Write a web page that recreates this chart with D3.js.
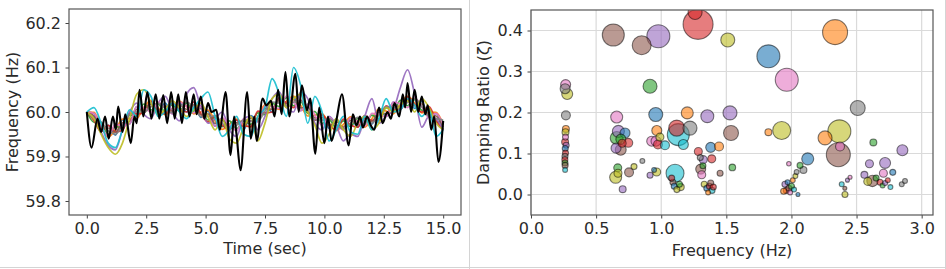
<!DOCTYPE html>
<html>
<head>
<meta charset="utf-8">
<script src="https://cdn.jsdelivr.net/npm/d3@7"></script>
<style>
  body { margin: 0; background: #fff; }
  svg { display: block; font-family: "DejaVu Sans", sans-serif; }
</style>
</head>
<body>
<svg id="chart" width="946" height="269"></svg>
<script>
// ---- left panel: frequency traces ----
const traceTimes = [0,0.3,0.6,0.9,1.2,1.5,1.8,2.1,2.4,2.7,3.0,3.3,3.6,3.9,4.2,4.5,4.8,5.1,5.4,5.7,
  6.0,6.3,6.6,6.9,7.2,7.5,7.8,8.1,8.4,8.7,9.0,9.3,9.6,9.9,10.2,10.5,10.8,11.1,11.4,11.7,
  12.0,12.3,12.6,12.9,13.2,13.5,13.8,14.1,14.4,14.7,15.0];

const traceBlue = [60.000,59.997,59.956,59.970,59.948,59.982,59.973,60.012,59.998,60.024,59.998,60.020,59.996,60.022,60.000,60.022,59.988,60.002,59.968,59.987,
  59.960,59.982,59.960,59.992,59.978,60.014,60.000,60.032,60.012,60.034,60.003,60.017,59.981,59.994,59.963,59.984,59.960,59.987,59.966,59.992,
  59.973,60.005,59.990,60.022,60.006,60.034,60.008,60.024,59.988,59.997,59.960];
const traceOrange = [60.000,59.999,59.968,59.944,59.960,59.984,59.985,59.986,60.010,60.026,60.010,59.994,60.008,60.024,60.012,59.996,60.000,60.004,59.980,59.961,
  59.972,59.984,59.972,59.966,59.990,60.016,60.012,60.006,60.024,60.036,60.015,59.991,59.993,59.996,59.975,59.958,59.972,59.989,59.978,59.966,
  59.985,60.007,60.002,59.996,60.018,60.036,60.020,59.998,60.000,59.999,59.972];
const traceGreen = [60.000,59.977,59.976,59.950,59.968,59.962,59.993,59.992,60.018,60.004,60.018,60.000,60.016,60.002,60.020,60.002,60.008,59.982,59.988,59.967,
  59.980,59.962,59.980,59.972,59.998,59.994,60.020,60.012,60.032,60.014,60.023,59.997,60.001,59.974,59.983,59.964,59.980,59.967,59.986,59.972,
  59.993,59.985,60.010,60.002,60.026,60.014,60.028,60.004,60.008,59.977,59.980];
const traceRed = [60.000,59.981,59.956,59.970,59.956,59.958,59.997,59.996,59.998,60.024,60.006,59.996,60.020,60.006,60.000,60.022,59.996,59.978,59.992,59.971,
  59.960,59.982,59.968,59.968,60.002,59.998,60.000,60.032,60.020,60.010,60.027,60.001,59.981,59.994,59.971,59.960,59.984,59.971,59.966,59.992,
  59.981,59.981,60.014,60.006,60.006,60.034,60.016,60.000,60.012,59.981,59.960];
const tracePurple = [60.000,59.990,59.955,59.925,59.915,59.960,60.000,60.020,59.995,59.985,60.020,60.035,60.000,59.980,60.040,60.055,60.010,59.975,59.985,60.000,
  59.960,59.945,59.985,59.990,59.960,59.990,60.030,60.045,60.010,60.000,60.045,60.030,59.975,59.960,59.990,59.970,59.935,59.950,59.945,59.990,
  60.030,59.975,59.990,60.005,60.055,60.095,60.040,59.966,59.990,59.985,59.960];
const traceBrown = [60.000,59.991,59.962,59.964,59.954,59.976,59.979,60.006,60.004,60.018,60.004,60.014,60.002,60.016,60.006,60.016,59.994,59.996,59.974,59.981,
  59.966,59.976,59.966,59.986,59.984,60.008,60.006,60.026,60.018,60.028,60.009,60.011,59.987,59.988,59.969,59.978,59.966,59.981,59.972,59.986,
  59.979,59.999,59.996,60.016,60.012,60.028,60.014,60.018,59.994,59.991,59.966];
const tracePink = [60.000,59.997,59.968,59.946,59.972,59.970,59.973,60.012,60.010,60.000,60.022,60.008,59.996,60.022,60.012,59.998,60.012,59.990,59.968,59.987,
  59.972,59.958,59.984,59.980,59.978,60.014,60.012,60.008,60.036,60.022,60.003,60.017,59.993,59.970,59.987,59.972,59.960,59.987,59.978,59.968,
  59.997,59.993,59.990,60.022,60.018,60.010,60.032,60.012,59.988,59.997,59.972];
const traceGray = [60.000,59.985,59.978,59.958,59.950,59.970,59.995,60.000,60.000,60.012,60.020,60.008,59.998,60.010,60.022,60.010,59.990,59.990,59.990,59.975,
  59.962,59.970,59.982,59.980,59.980,60.002,60.022,60.020,60.014,60.022,60.025,60.005,59.983,59.982,59.985,59.972,59.962,59.975,59.988,59.980,
  59.975,59.993,60.012,60.010,60.008,60.022,60.030,60.012,59.990,59.985,59.982];
const traceOlive = [60.000,59.985,59.950,59.920,59.905,59.930,59.985,60.040,60.050,60.020,59.995,60.005,60.025,60.010,59.990,60.005,60.020,59.990,59.960,59.985,
  59.940,59.930,59.965,59.990,59.935,59.975,60.030,60.040,60.010,60.030,60.040,60.000,59.970,59.930,59.950,59.985,59.960,59.945,59.975,59.990,
  59.960,59.975,60.010,60.000,60.015,60.025,60.000,60.030,60.010,59.975,59.960];
const traceCyan = [60.000,60.010,59.975,59.930,59.920,59.960,60.005,59.990,60.050,60.035,59.990,60.000,60.020,60.000,59.985,60.010,60.030,60.045,59.990,59.945,
  59.960,59.990,59.950,59.945,59.990,60.010,60.075,60.040,59.990,60.100,60.060,59.975,60.035,60.000,59.935,59.960,59.990,59.955,59.950,59.990,
  59.960,59.985,60.030,60.000,60.005,60.030,60.015,59.990,60.005,59.945,59.960];

// measured trace (black), turning points
const measuredTimes = [0.00,0.20,0.45,0.60,0.77,0.92,1.10,1.22,1.32,1.50,1.62,1.85,2.00,2.10,2.22,2.38,2.55,2.72,2.90,3.05,
  3.22,3.38,3.55,3.70,3.85,4.00,4.17,4.32,4.50,4.62,4.80,4.95,5.10,5.25,5.45,5.60,5.84,6.05,6.20,6.30,
  6.47,6.75,6.90,7.05,7.15,7.40,7.55,7.75,7.90,8.05,8.20,8.36,8.52,8.78,8.92,9.05,9.27,9.40,9.62,9.78,
  10.00,10.15,10.30,10.50,10.74,11.02,11.20,11.35,11.50,11.62,11.80,11.95,12.10,12.30,12.45,12.65,12.80,12.95,13.15,13.30,
  13.40,13.50,13.65,13.80,13.95,14.10,14.25,14.35,14.50,14.62,14.80,15.00];
const measuredFreq = [60.000,59.920,59.985,59.955,59.990,59.940,59.990,59.960,60.012,59.955,59.995,59.930,59.990,59.975,60.050,59.990,60.045,59.985,60.040,59.985,
  60.038,59.975,60.045,59.985,60.040,59.975,60.045,59.990,60.040,59.995,60.035,59.985,60.020,60.000,60.005,59.960,60.045,59.903,59.990,59.950,
  59.869,60.045,59.940,59.990,59.935,60.030,60.015,60.025,59.990,60.050,59.995,60.090,59.990,60.086,60.000,60.060,60.004,60.030,59.906,60.010,
  59.930,59.990,59.935,59.980,60.040,59.925,59.995,59.970,59.990,59.965,59.990,59.970,59.960,60.010,59.975,60.000,59.985,60.020,59.990,60.040,
  60.010,60.065,60.000,60.050,60.000,60.035,59.995,60.015,59.960,59.990,59.888,59.980];

const timeTicks = [0, 2.5, 5, 7.5, 10, 12.5, 15];
const freqTicks = [59.8, 59.9, 60.0, 60.1, 60.2];

// ---- right panel: identified modes ----
const modeFreq = [
  0.632,0.850,0.978,1.283,1.260,1.511,1.823,1.964,2.335,2.509,2.368,2.360,2.258,2.373,1.925,1.823,
  1.528,1.354,1.536,1.380,1.444,1.388,1.452,1.546,2.125,2.066,2.092,1.980,
  2.629,2.852,2.599,2.719,2.706,2.560,2.622,2.586,2.778,2.847,2.872,2.386,2.411,2.68,2.70,2.72,2.74,2.76,2.65,2.43,2.45,2.41,
  1.95,1.96,1.97,1.98,1.99,2.00,2.01,2.02,2.03,2.04,1.94,2.05,
  0.266,0.262,0.278,0.268,0.268,0.265,0.262,0.270,0.263,0.265,0.261,0.260,0.261,0.262,0.262,0.265,
  0.658,0.671,0.722,0.658,0.690,0.747,0.689,0.653,0.700,0.666,0.650,0.668,0.753,0.791,0.704,0.855,0.914,0.965,0.945,
  0.914,0.958,1.200,0.966,0.927,0.960,0.975,0.990,1.131,1.119,1.221,1.170,1.029,1.106,1.09,1.10,1.12,1.14,1.15,1.08,
  1.285,1.323,1.303,1.311,1.300,1.320,1.33,1.35,1.37,1.39,1.38,1.36,1.40];
const modeDamp = [
  0.389,0.364,0.386,0.415,0.444,0.377,0.337,0.280,0.396,0.211,0.154,0.097,0.138,0.117,0.156,0.152,
  0.199,0.191,0.150,0.115,0.117,0.087,0.052,0.066,0.087,0.071,0.060,0.075,
  0.127,0.108,0.075,0.077,0.052,0.048,0.033,0.032,0.054,0.025,0.033,0.025,0.000,0.030,0.022,0.028,0.035,0.018,0.040,0.035,0.042,0.015,
  0.025,0.010,0.030,0.015,0.005,0.020,0.035,0.012,0.045,0.055,0.008,0.000,
  0.268,0.258,0.245,0.193,0.160,0.152,0.128,0.120,0.112,0.101,0.093,0.085,0.077,0.071,0.060,0.140,
  0.189,0.154,0.150,0.138,0.135,0.126,0.109,0.113,0.125,0.065,0.042,0.052,0.054,0.068,0.013,0.082,0.047,0.055,0.060,
  0.264,0.195,0.199,0.156,0.130,0.130,0.122,0.140,0.146,0.162,0.162,0.122,0.120,0.052,0.030,0.020,0.012,0.025,0.018,0.040,
  0.105,0.085,0.062,0.048,0.090,0.070,0.025,0.015,0.020,0.010,0.028,0.005,0.018];
const modeSize = [
  121,90,132,225,49,49,132,132,156,56,132,144,49,20,81,12,
  49,42,56,25,20,16,9,11,36,9,12,5,
  12,30,16,30,16,12,32,16,9,6,6,6,9,9,6,6,6,6,9,4,4,4,
  9,9,6,9,6,9,6,6,6,6,9,4,
  25,25,30,20,12,12,12,9,9,9,9,9,9,9,6,9,
  36,36,25,42,25,20,30,25,16,16,36,16,20,9,12,6,9,16,6,
  49,49,36,25,25,25,20,16,121,64,49,25,20,81,9,9,9,9,12,9,
  16,16,25,16,9,9,9,9,9,9,9,6,9];
const modeGroup = [
  5,5,4,3,3,8,0,6,1,7,8,5,1,6,8,1,
  4,4,5,0,1,3,5,2,0,2,7,6,
  2,4,4,4,6,4,5,8,0,7,7,9,8,3,2,4,3,9,2,4,6,5,
  4,3,0,5,6,2,1,9,8,7,1,0,
  6,7,8,7,1,8,3,4,0,3,7,3,2,5,9,6,
  6,4,0,2,2,3,5,4,3,2,8,8,5,8,4,7,4,8,0,
  2,0,1,1,6,6,3,8,9,3,7,9,9,9,5,0,8,2,8,3,
  3,4,5,6,7,2,8,0,3,9,5,1,3];

const modeFreqTicks = [0, 0.5, 1, 1.5, 2, 2.5, 3];
const dampTicks = [0, 0.1, 0.2, 0.3, 0.4];

const tab10 = d3.schemeCategory10;
const svg = d3.select("#chart");

// panel frames
svg.append("line").attr("x1", 469.5).attr("x2", 469.5).attr("y1", 0).attr("y2", 269)
  .attr("stroke", "#d4d4d4");
svg.append("line").attr("x1", 945.5).attr("x2", 945.5).attr("y1", 0).attr("y2", 269)
  .attr("stroke", "#d4d4d4");
svg.append("line").attr("x1", 0).attr("x2", 946).attr("y1", 267.5).attr("y2", 267.5)
  .attr("stroke", "#d4d4d4");

function styleAxis(g) {
  g.select(".domain").remove();
  g.selectAll(".tick line").attr("stroke", "#444");
  g.selectAll(".tick text").attr("fill", "#2a2a2a").attr("font-size", 16)
    .attr("font-family", "DejaVu Sans, sans-serif");
}

// ---------- left ----------
const L = {x0: 69, x1: 461, y0: 9, y1: 215};
const xL = d3.scaleLinear().domain([-0.75, 15.75]).range([L.x0, L.x1]);
const yL = d3.scaleLinear().domain([59.7685, 60.2315]).range([L.y1, L.y0]);

svg.append("clipPath").attr("id", "clipL").append("rect")
  .attr("x", L.x0).attr("y", L.y0).attr("width", L.x1 - L.x0).attr("height", L.y1 - L.y0);

const lineTrace = d3.line()
  .x((d, i) => xL(traceTimes[i]))
  .y(d => yL(d))
  .curve(d3.curveMonotoneX);

const traces = [traceBlue, traceOrange, traceGreen, traceRed, tracePurple,
                traceBrown, tracePink, traceGray, traceOlive, traceCyan];

const gL = svg.append("g").attr("clip-path", "url(#clipL)");
gL.selectAll("path.trace")
  .data(traces)
  .join("path")
  .attr("class", "trace")
  .attr("d", lineTrace)
  .attr("fill", "none")
  .attr("stroke", (d, i) => tab10[i])
  .attr("stroke-width", 1.7)
  .attr("stroke-opacity", 0.9);

const lineMeasured = d3.line()
  .x((d, i) => xL(measuredTimes[i]))
  .y(d => yL(d))
  .curve(d3.curveMonotoneX);

gL.append("path")
  .datum(measuredFreq)
  .attr("d", lineMeasured)
  .attr("fill", "none")
  .attr("stroke", "#000")
  .attr("stroke-width", 2.1);

svg.append("g")
  .attr("transform", `translate(0,${L.y1})`)
  .call(d3.axisBottom(xL).tickValues(timeTicks).tickFormat(d3.format(".1f"))
    .tickSize(3.5).tickPadding(4))
  .call(styleAxis);

svg.append("g")
  .attr("transform", `translate(${L.x0},0)`)
  .call(d3.axisLeft(yL).tickValues(freqTicks).tickFormat(d3.format(".1f"))
    .tickSize(3.5).tickPadding(4.5))
  .call(styleAxis);

svg.append("rect")
  .attr("x", L.x0).attr("y", L.y0).attr("width", L.x1 - L.x0).attr("height", L.y1 - L.y0)
  .attr("fill", "none").attr("stroke", "#555").attr("stroke-width", 1.2);

svg.append("text")
  .attr("x", (L.x0 + L.x1) / 2).attr("y", 254)
  .attr("text-anchor", "middle").attr("font-size", 16).attr("fill", "#2a2a2a")
  .text("Time (sec)");

svg.append("text")
  .attr("transform", `translate(18,${(L.y0 + L.y1) / 2}) rotate(-90)`)
  .attr("text-anchor", "middle").attr("font-size", 16).attr("fill", "#2a2a2a")
  .text("Frequency (Hz)");

// ---------- right ----------
const R = {x0: 531, x1: 933, y0: 10, y1: 215};
const xR = d3.scaleLinear().domain([0, 3.087]).range([R.x0, R.x1]);
const yR = d3.scaleLinear().domain([-0.05, 0.45]).range([R.y1, R.y0]);
const rR = d3.scaleSqrt().domain([0, 225]).range([0, 15]);

svg.append("clipPath").attr("id", "clipR").append("rect")
  .attr("x", R.x0).attr("y", R.y0).attr("width", R.x1 - R.x0).attr("height", R.y1 - R.y0);

const grid = svg.append("g").attr("stroke", "#dadada").attr("stroke-width", 1.2);
grid.selectAll("line.gx").data(modeFreqTicks).join("line")
  .attr("x1", d => xR(d)).attr("x2", d => xR(d)).attr("y1", R.y0).attr("y2", R.y1);
grid.selectAll("line.gy").data(dampTicks).join("line")
  .attr("x1", R.x0).attr("x2", R.x1).attr("y1", d => yR(d)).attr("y2", d => yR(d));

const modes = modeFreq.map((f, i) => ({f, z: modeDamp[i], s: modeSize[i], g: modeGroup[i]}))
  .sort((a, b) => b.s - a.s);

svg.append("g").attr("clip-path", "url(#clipR)")
  .selectAll("circle")
  .data(modes)
  .join("circle")
  .attr("cx", d => xR(d.f))
  .attr("cy", d => yR(d.z))
  .attr("r", d => rR(d.s))
  .attr("fill", d => tab10[d.g])
  .attr("fill-opacity", 0.6)
  .attr("stroke", "#000")
  .attr("stroke-opacity", 0.5)
  .attr("stroke-width", 1.1);

svg.append("g")
  .attr("transform", `translate(0,${R.y1})`)
  .call(d3.axisBottom(xR).tickValues(modeFreqTicks).tickFormat(d3.format(".1f"))
    .tickSize(3.5).tickPadding(4))
  .call(styleAxis);

svg.append("g")
  .attr("transform", `translate(${R.x0},0)`)
  .call(d3.axisLeft(yR).tickValues(dampTicks).tickFormat(d3.format(".1f"))
    .tickSize(3.5).tickPadding(4.5))
  .call(styleAxis);

svg.append("rect")
  .attr("x", R.x0).attr("y", R.y0).attr("width", R.x1 - R.x0).attr("height", R.y1 - R.y0)
  .attr("fill", "none").attr("stroke", "#555").attr("stroke-width", 1.2);

svg.append("text")
  .attr("x", (R.x0 + R.x1) / 2).attr("y", 256)
  .attr("text-anchor", "middle").attr("font-size", 16).attr("fill", "#2a2a2a")
  .text("Frequency (Hz)");

svg.append("text")
  .attr("transform", `translate(489,${(R.y0 + R.y1) / 2}) rotate(-90)`)
  .attr("text-anchor", "middle").attr("font-size", 16).attr("fill", "#2a2a2a")
  .text("Damping Ratio (ζ)");
</script>
</body>
</html>
